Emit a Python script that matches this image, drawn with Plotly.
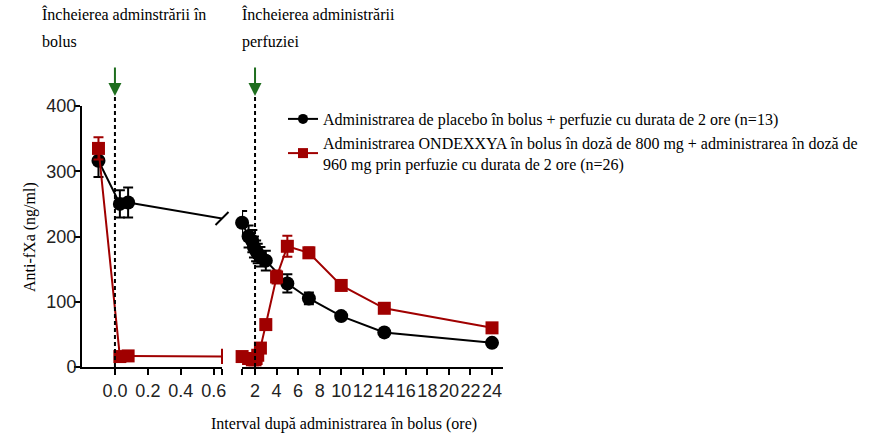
import numpy as np
import plotly.graph_objects as go

W, H = 870, 444
ML, MR, MT, MB = 82, 367, 106, 77
PW, PH = W - ML - MR, H - MT - MB

# ---------------- data ----------------
placebo_t = [-0.1, 0.03, 0.08, 0.8, 1.4, 1.75, 1.9, 2.1, 2.25, 2.5, 3, 5, 7, 10, 14, 24]
placebo_v = [316, 250, 252, 221, 200, 193, 184, 178, 174, 169, 163, 128, 105, 78, 53, 37]
placebo_e = [25, 21, 23, 18, 17, 17, 16, 16, 15, 15, 15, 14, 9, 4, 3, 3]

andexxa_t = [-0.1, 0.03, 0.08, 0.8, 1.4, 1.75, 2.0, 2.1, 2.25, 2.5, 3, 4, 5, 7, 10, 14, 24]
andexxa_v = [335, 16, 17, 16, 13, 11, 11, 13, 18, 29, 65, 138, 185, 175, 125, 90, 60]
andexxa_e = [17, 3, 3, 3, 3, 3, 3, 3, 4, 5, 6, 10, 16, 8, 5, 4, 4]

left_ticks = [0.0, 0.2, 0.4, 0.6]
left_ticktext = ["0.0", "0.2", "0.4", "0.6"]
right_ticks = [2, 4, 6, 8, 10, 12, 14, 16, 18, 20, 22, 24]
y_ticks = [0, 100, 200, 300, 400]

placebo_name = "Administrarea de placebo în bolus + perfuzie cu durata de 2 ore (n=13)"
andexxa_name = ("Administrarea ONDEXXYA în bolus în doză de 800 mg + administrarea în doză de"
                "<br>960 mg prin perfuzie cu durata de 2 ore (n=26)")
x_title = "Interval după administrarea în bolus (ore)"
y_title = "Anti-fXa (ng/ml)"
note1 = ["Încheierea adminstrării în", "bolus"]
note2 = ["Încheierea administrării", "perfuziei"]

LEFT_RANGE = [-0.2, 0.65]
RIGHT_RANGE = [0.79, 25.02]
BLACK = "#000000"
RED = "#a00000"
GREEN = "#1e6e1e"
SERIF = "Liberation Serif"
SANS = "Liberation Sans"


def px_x(p):
    return (p - ML) / PW


def px_y(p):
    return (H - MB - p) / PH


fig = go.Figure()


def add_series(t, v, e, color, symbol, size, brk_symbol, brk_size):
    t = np.array(t, float); v = np.array(v, float); e = np.array(e, float)
    lm = t <= LEFT_RANGE[1]
    rm = t >= RIGHT_RANGE[0]
    common = dict(mode="lines+markers", line=dict(color=color, width=2),
                  marker=dict(color=color, symbol=symbol, size=size),
                  cliponaxis=False, showlegend=False, hoverinfo="skip")
    # left panel
    fig.add_trace(go.Scatter(x=t[lm], y=v[lm], xaxis="x", yaxis="y",
                             error_y=dict(type="data", array=e[lm], color=color,
                                          thickness=2, width=5), **common))
    # right panel
    fig.add_trace(go.Scatter(x=t[rm], y=v[rm], xaxis="x2", yaxis="y",
                             error_y=dict(type="data", array=e[rm], color=color,
                                          thickness=2, width=5), **common))
    # line crossing the axis break (clipped at left panel edge)
    i0 = np.where(lm)[0][-1]
    i1 = np.where(rm)[0][0]
    fig.add_trace(go.Scatter(x=[t[i0], t[i1]], y=[v[i0], v[i1]], xaxis="x", yaxis="y",
                             mode="lines", line=dict(color=color, width=2),
                             showlegend=False, hoverinfo="skip"))
    yb = float(np.interp(LEFT_RANGE[1], [t[i0], t[i1]], [v[i0], v[i1]]))
    fig.add_trace(go.Scatter(x=[LEFT_RANGE[1]], y=[yb], xaxis="x", yaxis="y", mode="markers",
                             marker=dict(symbol=brk_symbol, size=brk_size,
                                         line=dict(color=color, width=2)),
                             cliponaxis=False, showlegend=False, hoverinfo="skip"))


add_series(placebo_t, placebo_v, placebo_e, BLACK, "circle", 14, "line-ne", 13)
add_series(andexxa_t, andexxa_v, andexxa_e, RED, "square", 13, "line-ns", 11)

# legend entries
fig.add_trace(go.Scatter(x=[None], y=[None], mode="lines+markers", name=placebo_name,
                         line=dict(color=BLACK, width=2),
                         marker=dict(color=BLACK, symbol="circle", size=10)))
fig.add_trace(go.Scatter(x=[None], y=[None], mode="lines+markers", name=andexxa_name,
                         line=dict(color=RED, width=2),
                         marker=dict(color=RED, symbol="square", size=10)))

axis_common = dict(showline=True, linecolor=BLACK, linewidth=2, ticks="outside",
                   ticklen=6, tickwidth=2, tickcolor=BLACK, showgrid=False, zeroline=False,
                   tickfont=dict(family=SANS, size=18, color="#222"))

fig.update_layout(
    width=W, height=H,
    margin=dict(l=ML, r=MR, t=MT, b=MB, autoexpand=False),
    paper_bgcolor="white", plot_bgcolor="white",
    xaxis=dict(domain=[0, px_x(222)], range=LEFT_RANGE, tickangle=0,
               tickvals=left_ticks + [LEFT_RANGE[1]], ticktext=left_ticktext + [""],
               **axis_common),
    xaxis2=dict(domain=[px_x(242), 1], range=RIGHT_RANGE, tickangle=0,
                tickvals=[RIGHT_RANGE[0]] + right_ticks,
                ticktext=[""] + [str(v) for v in right_ticks], **axis_common),
    yaxis=dict(range=[0, 400], tickvals=y_ticks, ticklabelstandoff=-6, **axis_common),
    legend=dict(x=px_x(283), y=px_y(102), xanchor="left", yanchor="top",
                bgcolor="rgba(0,0,0,0)", font=dict(family=SERIF, size=16, color=BLACK),
                tracegroupgap=0),
    showlegend=True,
)

# dashed vertical markers
for xv, xr in [(0, "x"), (2, "x2")]:
    fig.add_shape(type="line", xref=xr, yref="paper", x0=xv, x1=xv, y0=0, y1=px_y(96),
                  line=dict(color=BLACK, width=2, dash="4px,3px"))
    fig.add_annotation(x=xv, xref=xr, y=px_y(96), yref="paper", text="", showarrow=True,
                       ax=0, ay=-30, arrowhead=2, arrowsize=1.3, arrowwidth=2,
                       arrowcolor=GREEN, standoff=0)

tfont = dict(family=SERIF, size=16, color=BLACK)
for i, s in enumerate(note1):
    fig.add_annotation(x=px_x(40), y=px_y(14 + 28 * i), xref="paper", yref="paper", text=s,
                       showarrow=False, xanchor="left", yanchor="middle", font=tfont)
for i, s in enumerate(note2):
    fig.add_annotation(x=px_x(240), y=px_y(14 + 28 * i), xref="paper", yref="paper", text=s,
                       showarrow=False, xanchor="left", yanchor="middle", font=tfont)

fig.add_annotation(x=px_x(344), y=px_y(424), xref="paper", yref="paper", text=x_title,
                   showarrow=False, xanchor="center", yanchor="middle", font=tfont)
fig.add_annotation(x=px_x(30), y=px_y(237), xref="paper", yref="paper", text=y_title,
                   showarrow=False, xanchor="center", yanchor="middle", textangle=-90,
                   font=tfont)

fig.write_html("out.html")
